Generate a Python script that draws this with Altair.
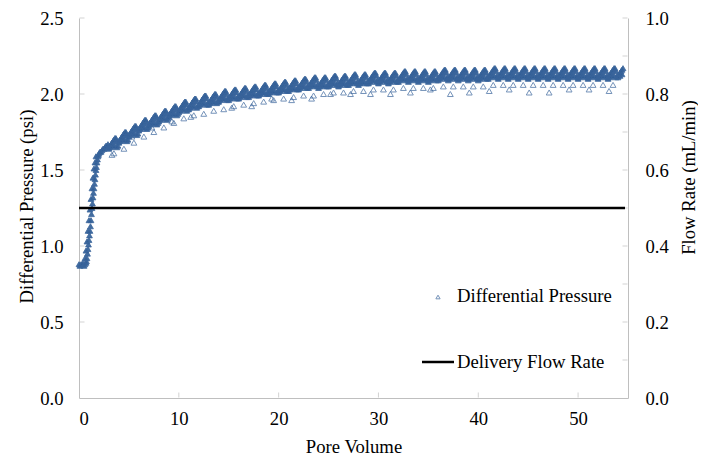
import altair as alt
import pandas as pd

# ---- data ----
# Differential pressure (psi): one row per pore volume n, values at n.0, n.1, ..., n.9
dp_rows = [
    [0.88, 0.87, 0.88, 0.88, 0.89, 0.87, 0.88, 0.89, 0.92, 0.98],
    [1.04, 1.10, 1.17, 1.25, 1.32, 1.38, 1.44, 1.50, 1.55, 1.59],
    [1.61, 1.62, 1.62, 1.63, 1.64, 1.64, 1.65, 1.66, 1.66, 1.67],
    [1.65, 1.66, 1.67, 1.68, 1.69, 1.70, 1.71, 1.71, 1.69, 1.66],
    [1.69, 1.70, 1.71, 1.72, 1.73, 1.74, 1.75, 1.75, 1.73, 1.70],
    [1.73, 1.74, 1.75, 1.76, 1.77, 1.78, 1.79, 1.79, 1.77, 1.74],
    [1.77, 1.78, 1.79, 1.80, 1.81, 1.82, 1.83, 1.83, 1.81, 1.78],
    [1.80, 1.81, 1.82, 1.83, 1.84, 1.85, 1.86, 1.86, 1.84, 1.81],
    [1.83, 1.84, 1.85, 1.86, 1.87, 1.88, 1.89, 1.89, 1.87, 1.84],
    [1.86, 1.87, 1.88, 1.89, 1.90, 1.91, 1.92, 1.92, 1.90, 1.87],
    [1.89, 1.90, 1.91, 1.92, 1.93, 1.94, 1.95, 1.95, 1.93, 1.90],
    [1.91, 1.92, 1.93, 1.94, 1.95, 1.96, 1.97, 1.97, 1.95, 1.92],
    [1.93, 1.94, 1.95, 1.96, 1.97, 1.98, 1.99, 1.99, 1.97, 1.94],
    [1.94, 1.95, 1.96, 1.97, 1.98, 1.99, 2.00, 2.00, 1.98, 1.95],
    [1.96, 1.97, 1.98, 1.99, 2.00, 2.01, 2.02, 2.02, 2.00, 1.97],
    [1.97, 1.98, 1.99, 2.00, 2.01, 2.02, 2.03, 2.03, 2.01, 1.98],
    [1.98, 1.99, 2.00, 2.01, 2.02, 2.03, 2.04, 2.04, 2.02, 1.99],
    [1.99, 2.00, 2.01, 2.02, 2.03, 2.04, 2.05, 2.05, 2.03, 2.00],
    [2.00, 2.01, 2.02, 2.03, 2.04, 2.05, 2.06, 2.06, 2.04, 2.01],
    [2.01, 2.02, 2.03, 2.04, 2.05, 2.06, 2.07, 2.07, 2.05, 2.02],
    [2.02, 2.03, 2.04, 2.05, 2.06, 2.07, 2.08, 2.08, 2.06, 2.03],
    [2.03, 2.04, 2.05, 2.06, 2.07, 2.08, 2.09, 2.09, 2.07, 2.04],
    [2.04, 2.05, 2.06, 2.07, 2.08, 2.09, 2.10, 2.10, 2.08, 2.05],
    [2.05, 2.06, 2.07, 2.08, 2.09, 2.10, 2.11, 2.11, 2.09, 2.06],
    [2.05, 2.06, 2.07, 2.08, 2.09, 2.10, 2.11, 2.11, 2.09, 2.06],
    [2.06, 2.07, 2.08, 2.09, 2.10, 2.11, 2.12, 2.12, 2.10, 2.07],
    [2.06, 2.07, 2.08, 2.09, 2.10, 2.11, 2.12, 2.12, 2.10, 2.07],
    [2.07, 2.08, 2.09, 2.10, 2.11, 2.12, 2.13, 2.13, 2.11, 2.08],
    [2.07, 2.08, 2.09, 2.10, 2.11, 2.12, 2.13, 2.13, 2.11, 2.08],
    [2.08, 2.09, 2.10, 2.11, 2.12, 2.13, 2.14, 2.14, 2.12, 2.09],
    [2.08, 2.09, 2.10, 2.11, 2.12, 2.13, 2.14, 2.14, 2.12, 2.09],
    [2.08, 2.09, 2.10, 2.11, 2.12, 2.13, 2.14, 2.14, 2.12, 2.09],
    [2.09, 2.10, 2.11, 2.12, 2.13, 2.14, 2.15, 2.15, 2.13, 2.10],
    [2.09, 2.10, 2.11, 2.12, 2.13, 2.14, 2.15, 2.15, 2.13, 2.10],
    [2.09, 2.10, 2.11, 2.12, 2.13, 2.14, 2.15, 2.15, 2.13, 2.10],
    [2.09, 2.10, 2.11, 2.12, 2.13, 2.14, 2.15, 2.15, 2.13, 2.10],
    [2.10, 2.11, 2.12, 2.13, 2.14, 2.15, 2.16, 2.16, 2.14, 2.11],
    [2.10, 2.11, 2.12, 2.13, 2.14, 2.15, 2.16, 2.16, 2.14, 2.11],
    [2.10, 2.11, 2.12, 2.13, 2.14, 2.15, 2.16, 2.16, 2.14, 2.11],
    [2.10, 2.11, 2.12, 2.13, 2.14, 2.15, 2.16, 2.16, 2.14, 2.11],
    [2.10, 2.11, 2.12, 2.13, 2.14, 2.15, 2.16, 2.16, 2.14, 2.11],
    [2.11, 2.12, 2.13, 2.14, 2.15, 2.16, 2.17, 2.17, 2.15, 2.12],
    [2.11, 2.12, 2.13, 2.14, 2.15, 2.16, 2.17, 2.17, 2.15, 2.12],
    [2.11, 2.12, 2.13, 2.14, 2.15, 2.16, 2.17, 2.17, 2.15, 2.12],
    [2.11, 2.12, 2.13, 2.14, 2.15, 2.16, 2.17, 2.17, 2.15, 2.12],
    [2.11, 2.12, 2.13, 2.14, 2.15, 2.16, 2.17, 2.17, 2.15, 2.12],
    [2.11, 2.12, 2.13, 2.14, 2.15, 2.16, 2.17, 2.17, 2.15, 2.12],
    [2.11, 2.12, 2.13, 2.14, 2.15, 2.16, 2.17, 2.17, 2.15, 2.12],
    [2.11, 2.12, 2.13, 2.14, 2.15, 2.16, 2.17, 2.17, 2.15, 2.12],
    [2.11, 2.12, 2.13, 2.14, 2.15, 2.16, 2.17, 2.17, 2.15, 2.12],
    [2.11, 2.12, 2.13, 2.14, 2.15, 2.16, 2.17, 2.17, 2.15, 2.12],
    [2.11, 2.12, 2.13, 2.14, 2.15, 2.16, 2.17, 2.17, 2.15, 2.12],
    [2.11, 2.12, 2.13, 2.14, 2.15, 2.16, 2.17, 2.17, 2.15, 2.12],
    [2.11, 2.12, 2.13, 2.14, 2.15, 2.16, 2.17, 2.17, 2.15, 2.12],
    [2.12, 2.13, 2.14, 2.15, 2.16, 2.17],
]
dp_step = 0.1

# lower readings inside the band: one row per pore volume from PV 3, values at n.0, n.2, ..., n.8
low_start = 3
low_step = 0.2
low_rows = [
    [1.64, 1.65, 1.66, 1.66, 1.65],
    [1.68, 1.69, 1.70, 1.70, 1.69],
    [1.72, 1.73, 1.74, 1.74, 1.73],
    [1.76, 1.77, 1.78, 1.78, 1.77],
    [1.79, 1.80, 1.81, 1.81, 1.80],
    [1.82, 1.83, 1.84, 1.84, 1.83],
    [1.85, 1.86, 1.87, 1.87, 1.86],
    [1.88, 1.89, 1.90, 1.90, 1.89],
    [1.90, 1.91, 1.92, 1.92, 1.91],
    [1.92, 1.93, 1.94, 1.94, 1.93],
    [1.93, 1.94, 1.95, 1.95, 1.94],
    [1.95, 1.96, 1.97, 1.97, 1.96],
    [1.96, 1.97, 1.98, 1.98, 1.97],
    [1.97, 1.98, 1.99, 1.99, 1.98],
    [1.98, 1.99, 2.00, 2.00, 1.99],
    [1.99, 2.00, 2.01, 2.01, 2.00],
    [2.00, 2.01, 2.02, 2.02, 2.01],
    [2.01, 2.02, 2.03, 2.03, 2.02],
    [2.02, 2.03, 2.04, 2.04, 2.03],
    [2.03, 2.04, 2.05, 2.05, 2.04],
    [2.04, 2.05, 2.06, 2.06, 2.05],
    [2.04, 2.05, 2.06, 2.06, 2.05],
    [2.05, 2.06, 2.07, 2.07, 2.06],
    [2.05, 2.06, 2.07, 2.07, 2.06],
    [2.06, 2.07, 2.08, 2.08, 2.07],
    [2.06, 2.07, 2.08, 2.08, 2.07],
    [2.07, 2.08, 2.09, 2.09, 2.08],
    [2.07, 2.08, 2.09, 2.09, 2.08],
    [2.07, 2.08, 2.09, 2.09, 2.08],
    [2.08, 2.09, 2.10, 2.10, 2.09],
    [2.08, 2.09, 2.10, 2.10, 2.09],
    [2.08, 2.09, 2.10, 2.10, 2.09],
    [2.08, 2.09, 2.10, 2.10, 2.09],
    [2.09, 2.10, 2.11, 2.11, 2.10],
    [2.09, 2.10, 2.11, 2.11, 2.10],
    [2.09, 2.10, 2.11, 2.11, 2.10],
    [2.09, 2.10, 2.11, 2.11, 2.10],
    [2.09, 2.10, 2.11, 2.11, 2.10],
    [2.10, 2.11, 2.12, 2.12, 2.11],
    [2.10, 2.11, 2.12, 2.12, 2.11],
    [2.10, 2.11, 2.12, 2.12, 2.11],
    [2.10, 2.11, 2.12, 2.12, 2.11],
    [2.10, 2.11, 2.12, 2.12, 2.11],
    [2.10, 2.11, 2.12, 2.12, 2.11],
    [2.10, 2.11, 2.12, 2.12, 2.11],
    [2.10, 2.11, 2.12, 2.12, 2.11],
    [2.10, 2.11, 2.12, 2.12, 2.11],
    [2.10, 2.11, 2.12, 2.12, 2.11],
    [2.10, 2.11, 2.12, 2.12, 2.11],
    [2.10, 2.11, 2.12, 2.12, 2.11],
    [2.10, 2.11, 2.12, 2.12, 2.11],
    [2.11, 2.12, 2.13],
]

# extra points that thicken the steep initial rise
ramp_x = [0.75, 0.85, 0.95, 1.05, 1.15, 1.25, 1.35, 1.45, 1.55, 1.65, 1.75, 1.85, 1.95,
          0.6, 0.7, 0.8, 0.9, 1.0, 1.1, 1.2, 1.3, 1.4, 1.5, 1.6, 1.7]
ramp_y = [0.90, 0.95, 1.01, 1.07, 1.13, 1.21, 1.28, 1.35, 1.41, 1.47, 1.52, 1.57, 1.60,
          0.92, 0.97, 1.03, 1.10, 1.17, 1.24, 1.31, 1.38, 1.45, 1.51, 1.55, 1.59]

# points just below the dense band
near_x = [3.5, 4.5, 5.5, 6.5, 7.5, 8.5, 9.5, 10.5, 11.5, 12.5, 13.5, 14.5, 15.5, 16.5,
          17.5, 18.5, 19.5, 20.5, 21.5, 22.5, 23.5, 24.5, 25.5, 26.5, 27.5, 28.5, 29.5,
          30.5, 31.5, 32.5, 33.5, 34.5, 35.5, 36.5, 37.5, 38.5, 39.5, 40.5, 41.5, 42.5,
          43.5, 44.5, 45.5, 46.5, 47.5, 48.5, 49.5, 50.5, 51.5, 52.5, 53.5]
near_y = [1.61, 1.64, 1.68, 1.72, 1.75, 1.78, 1.81, 1.84, 1.86, 1.87, 1.89, 1.90, 1.92,
          1.93, 1.94, 1.95, 1.96, 1.97, 1.98, 1.99, 1.99, 2.00, 2.01, 2.01, 2.02, 2.02,
          2.03, 2.03, 2.03, 2.04, 2.04, 2.04, 2.04, 2.05, 2.05, 2.05, 2.05, 2.05, 2.06,
          2.06, 2.06, 2.06, 2.06, 2.06, 2.06, 2.06, 2.06, 2.06, 2.06, 2.06, 2.06]

# isolated low readings
out_x = [3.3, 5.3, 7.3, 9.3, 11.2, 15.3, 17.3, 19.3, 21.3, 23.3, 25.2, 27.2, 29.2,
         31.2, 33.2, 35.2, 37.2, 39.1, 41.1, 43.1, 45.1, 47.1, 49.1, 51.1, 53.1]
out_y = [1.60, 1.72, 1.78, 1.82, 1.85, 1.91, 1.92, 1.97, 1.96, 1.97, 2.00, 2.00, 2.00,
         2.00, 2.01, 2.03, 2.00, 2.01, 2.02, 2.03, 2.01, 2.01, 2.03, 2.03, 2.02]

# delivery flow rate (mL/min)
flow_x = [0.0, 54.7]
flow_y = [0.5, 0.5]

x_ticks = [0, 10, 20, 30, 40, 50]
left_ticks = [0.0, 0.5, 1.0, 1.5, 2.0, 2.5]
right_ticks = [0.0, 0.1, 0.2, 0.3, 0.4, 0.5, 0.6, 0.7, 0.8, 0.9, 1.0]
legend_labels = ["Differential Pressure", "Delivery Flow Rate"]

# ---- build tables ----
px, py = [], []
for n, row in enumerate(dp_rows):
    for k, v in enumerate(row):
        px.append(round(n + k * dp_step, 2))
        py.append(v)
for i, row in enumerate(low_rows):
    for k, v in enumerate(row):
        px.append(round(low_start + i + k * low_step, 2))
        py.append(v)
band_df = pd.DataFrame({"pv": px + ramp_x, "dp": py + ramp_y})
low_df = pd.DataFrame({"pv": near_x + out_x, "dp": near_y + out_y})
flow_df = pd.DataFrame({"pv": flow_x, "rate": flow_y})

W, H = 549, 380
FONT = "Times New Roman, Liberation Serif, serif"
FS = 18.7
BLUE = "#3A659C"
DARK = "#2F5D96"
GRAY = "#BFBFBF"

xscale = alt.Scale(domain=[0, 55], nice=False, zero=False)
yscale_l = alt.Scale(domain=[0, 2.5], nice=False)
x_axis = alt.Axis(values=x_ticks, format="d", title="Pore Volume", ticks=False,
                  labelPadding=11, titlePadding=10, grid=False)

band_fill = alt.Chart(band_df).mark_point(
    shape="triangle-up", filled=True, color=DARK, size=34, opacity=0.9
).encode(
    x=alt.X("pv:Q", scale=xscale, axis=x_axis),
    y=alt.Y("dp:Q", scale=yscale_l,
            axis=alt.Axis(values=left_ticks, format=".1f", title="Differential Pressure (psi)",
                          ticks=False, labelPadding=16, grid=False,
                          titleX=-53, titleY=188, titleAngle=270, titleAlign="center",
                          titleBaseline="middle")),
)
band_edge = alt.Chart(band_df).mark_point(
    shape="triangle-up", filled=False, color=BLUE, size=34, strokeWidth=1, opacity=0.8
).encode(x=alt.X("pv:Q", scale=xscale), y=alt.Y("dp:Q", scale=yscale_l))
low = alt.Chart(low_df).mark_point(
    shape="triangle-up", filled=False, color=BLUE, size=34, strokeWidth=1, opacity=0.7
).encode(x=alt.X("pv:Q", scale=xscale), y=alt.Y("dp:Q", scale=yscale_l))

lt_df = pd.DataFrame({"v": left_ticks[1:]})
left_tick_marks = alt.Chart(lt_df).mark_tick(color=GRAY, size=5, thickness=1, orient="horizontal").encode(
    y=alt.Y("v:Q", scale=yscale_l), x=alt.value(3)
)
xt_df = pd.DataFrame({"v": x_ticks[1:]})
x_tick_marks = alt.Chart(xt_df).mark_tick(color=GRAY, size=5, thickness=1, orient="vertical").encode(
    x=alt.X("v:Q", scale=xscale), y=alt.value(H - 3)
)

leg_tri = alt.Chart(pd.DataFrame({"a": [0]})).mark_point(
    shape="triangle-up", filled=False, color=BLUE, size=18, strokeWidth=1, opacity=0.7
).encode(x=alt.value(359), y=alt.value(279))
leg_line = alt.Chart(pd.DataFrame({"a": [0]})).mark_rule(color="black", strokeWidth=2.5).encode(
    x=alt.value(343), x2=alt.value(375), y=alt.value(344)
)
leg_text1 = alt.Chart(pd.DataFrame({"label": [legend_labels[0]]})).mark_text(
    align="left", baseline="middle", font=FONT, fontSize=FS, color="black"
).encode(x=alt.value(378), y=alt.value(278), text="label:N")
leg_text2 = alt.Chart(pd.DataFrame({"label": [legend_labels[1]]})).mark_text(
    align="left", baseline="middle", font=FONT, fontSize=FS, color="black"
).encode(x=alt.value(378), y=alt.value(344), text="label:N")

left = alt.layer(band_fill, left_tick_marks, x_tick_marks, low, band_edge,
                 leg_tri, leg_line, leg_text1, leg_text2)

flow = alt.Chart(flow_df).mark_line(color="black", strokeWidth=2.5).encode(
    x=alt.X("pv:Q", scale=xscale),
    y=alt.Y("rate:Q", scale=alt.Scale(domain=[0, 1], nice=False),
            axis=alt.Axis(values=right_ticks, format=".1f", title="Flow Rate (mL/min)",
                          orient="right", ticks=False, labelPadding=17, grid=False,
                          titleX=60, titleY=159, titleAngle=270, titleAlign="center",
                          titleBaseline="middle")),
)
rt_df = pd.DataFrame({"v": right_ticks[1:]})
right_tick_marks = alt.Chart(rt_df).mark_tick(color=GRAY, size=5, thickness=1, orient="horizontal").encode(
    y=alt.Y("v:Q", scale=alt.Scale(domain=[0, 1], nice=False)), x=alt.value(W - 3)
)
right = alt.layer(right_tick_marks, flow)

chart = alt.layer(left, right).resolve_scale(y="independent").properties(
    width=W, height=H,
    autosize=alt.AutoSizeParams(type="none"),
    padding={"left": 71, "top": 10, "right": 70, "bottom": 58},
).configure_view(stroke=None).configure_axis(
    labelFont=FONT, titleFont=FONT, labelFontSize=FS, titleFontSize=FS,
    labelColor="black", titleColor="black", titleFontWeight="normal",
    domainColor=GRAY, domainWidth=1,
)

chart.save("out.html", embed_options={"renderer": "svg", "actions": False})
